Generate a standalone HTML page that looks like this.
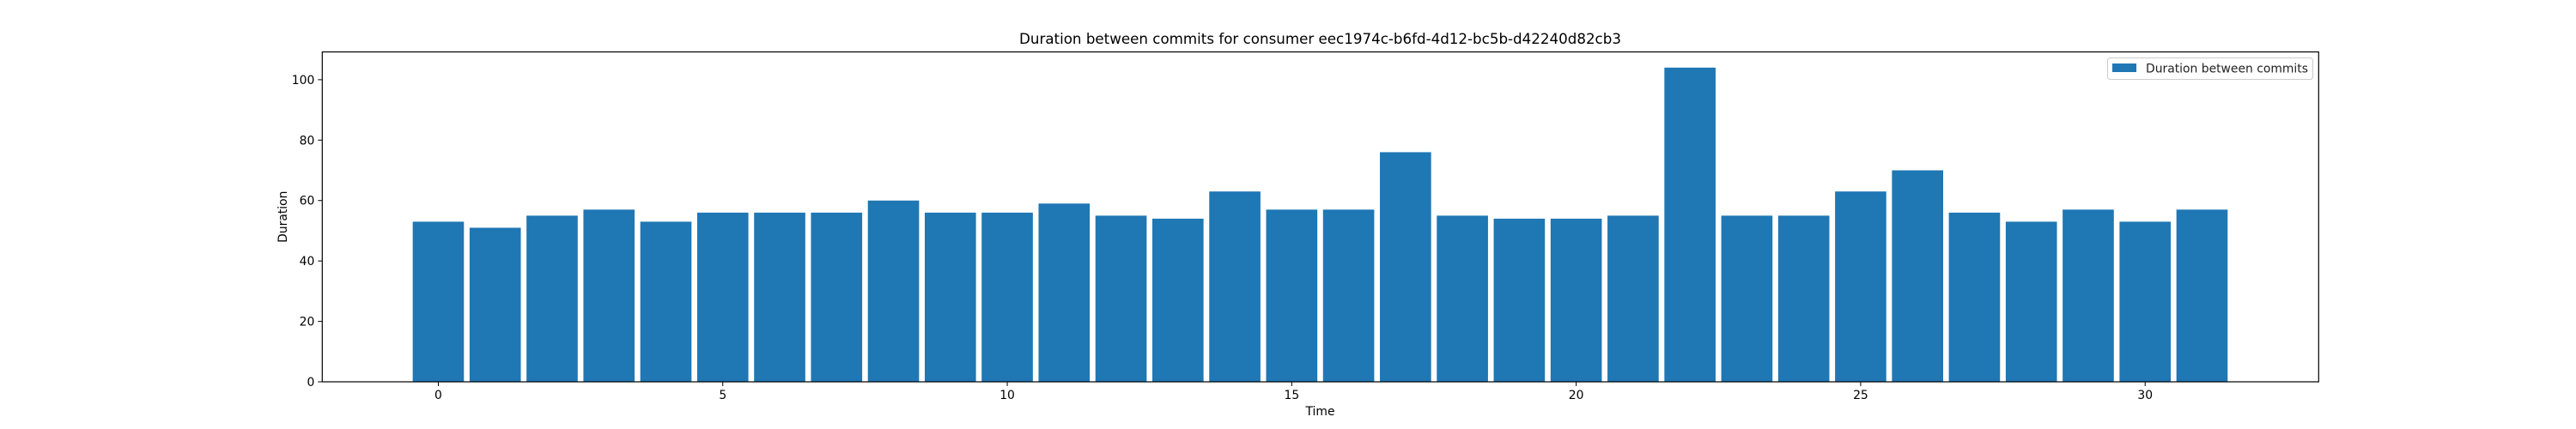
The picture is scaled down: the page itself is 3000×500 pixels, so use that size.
<!DOCTYPE html>
<html><head><meta charset="utf-8"><style>body{margin:0;background:#fff}svg{display:block;font-family:"DejaVu Sans","Liberation Sans",sans-serif}</style></head>
<body>
<svg id="chart" width="3000" height="500">
<rect width="3000" height="500" fill="#fff"/>
<text x="1537.5" y="51" font-size="16.7" text-anchor="middle">Duration between commits for consumer eec1974c-b6fd-4d12-bc5b-d42240d82cb3</text>
<g id="bars"></g>
<g id="axes"></g>
<text x="1537.5" y="484" font-size="13.9" text-anchor="middle">Time</text>
<text transform="translate(334,252.7) rotate(-90)" font-size="13.9" text-anchor="middle">Duration</text>
<g>
<rect x="2454.5" y="67.5" width="239" height="25" rx="3" fill="#fff" stroke="#ccc" stroke-width="1"/>
<rect x="2460" y="74" width="28" height="10" fill="#1f77b4"/>
<text x="2499" y="84.5" font-size="13.9" fill="#222">Duration between commits</text>
</g>
</svg>
<script>
const categories = [0,1,2,3,4,5,6,7,8,9,10,11,12,13,14,15,16,17,18,19,20,21,22,23,24,25,26,27,28,29,30,31];
const durations = [53,51,55,57,53,56,56,56,60,56,56,59,55,54,63,57,57,76,55,54,54,55,104,55,55,63,70,56,53,57,53,57];
const xTicks = [0,5,10,15,20,25,30];
const yTicks = [0,20,40,60,80,100];
const NS = 'http://www.w3.org/2000/svg';
const L = 375.3, R = 2700.3, T = 60.5, B = 445;
const xMin = -2.04, xMax = 33.05;
const yMin = 0, yMax = Math.max(...durations) * 1.05;
const xs = v => L + (v - xMin) / (xMax - xMin) * (R - L);
const ys = v => B - (v - yMin) / (yMax - yMin) * (B - T);
function mk(tag, attrs, parent) { const e = document.createElementNS(NS, tag); for (const k in attrs) e.setAttribute(k, attrs[k]); parent.appendChild(e); return e; }
const gb = document.getElementById('bars');
const ga = document.getElementById('axes');
const bw = 0.9;
categories.forEach((c, i) => {
  const x0 = xs(c - bw / 2), x1 = xs(c + bw / 2);
  const r = mk('rect', {x: x0, y: ys(durations[i]), width: x1 - x0, height: ys(0) - ys(durations[i]), fill: '#1f77b4'}, gb);
  
  
});
const frame = mk('rect', {x: L, y: T, width: R - L, height: B - T, fill: 'none', stroke: '#000', 'stroke-width': 1.2}, ga);


xTicks.forEach(t => {
  const x = xs(t);
  mk('line', {x1: x, x2: x, y1: B, y2: B + 5, stroke: '#000', 'stroke-width': 1}, ga);
  const tx = mk('text', {x: x, y: B + 20, 'font-size': 13.9, 'text-anchor': 'middle'}, ga);
  tx.textContent = t;
  
  
});
yTicks.forEach(t => {
  const y = ys(t);
  mk('line', {x1: L - 5, x2: L, y1: y, y2: y, stroke: '#000', 'stroke-width': 1}, ga);
  const tx = mk('text', {x: L - 9, y: y + 5, 'font-size': 13.9, 'text-anchor': 'end'}, ga);
  tx.textContent = t;
  
  
});
</script>
</body></html>
